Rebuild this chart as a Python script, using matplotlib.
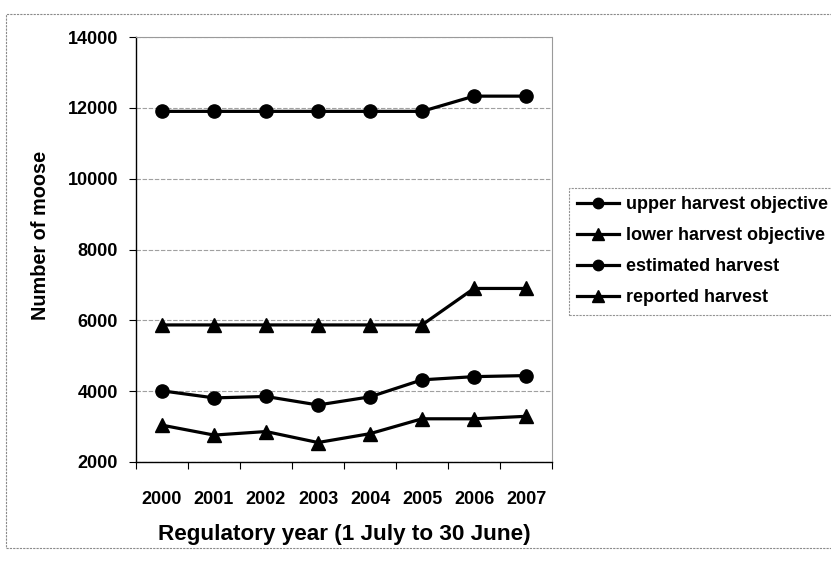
import matplotlib
matplotlib.use("Agg")
import matplotlib.pyplot as plt
from matplotlib.lines import Line2D
from matplotlib.patches import Rectangle

plt.rcParams['font.family'] = ['Liberation Sans', 'DejaVu Sans']
plt.rcParams['font.weight'] = 'bold'

years = ["2000", "2001", "2002", "2003", "2004", "2005", "2006", "2007"]
upper_objective = [11900, 11900, 11900, 11900, 11900, 11900, 12330, 12330]
lower_objective = [5870, 5870, 5870, 5870, 5870, 5870, 6900, 6900]
estimated_harvest = [4010, 3810, 3850, 3610, 3840, 4320, 4410, 4440]
reported_harvest = [3040, 2760, 2860, 2550, 2800, 3220, 3220, 3290]

series = [
    ("upper harvest objective", upper_objective, "o"),
    ("lower harvest objective", lower_objective, "^"),
    ("estimated harvest", estimated_harvest, "o"),
    ("reported harvest", reported_harvest, "^"),
]

W, H = 831, 562
fig = plt.figure(figsize=(W / 100, H / 100), dpi=100)

# outer chart frame
fig.add_artist(Rectangle((6 / W, 1 - 548 / H), (W - 5) / W, (548 - 14) / H,
                         transform=fig.transFigure, fill=False,
                         edgecolor="#8a8a8a", linewidth=0.8, linestyle=(0, (2, 1))))

ax = fig.add_axes([136 / W, 1 - 462 / H, (552 - 136) / W, (462 - 37) / H])

x = list(range(len(years)))
for name, vals, mk in series:
    ms = 9.5 if mk == "o" else 10.5
    ax.plot(x, vals, color="black", linewidth=2.3, marker=mk, markersize=ms,
            markerfacecolor="black", markeredgecolor="black", label=name,
            zorder=3)

ax.set_xlim(-0.5, len(years) - 0.5)
ax.set_ylim(2000, 14000)
ax.set_yticks(range(2000, 14001, 2000))
ax.set_yticklabels([str(v) for v in range(2000, 14001, 2000)], fontsize=13,
                   fontweight="bold")
ax.set_xticks(x)
ax.set_xticklabels(years, fontsize=13, fontweight="bold")
ax.set_xticks([i - 0.5 for i in range(len(years) + 1)], minor=True)
ax.tick_params(axis="x", which="major", length=0, pad=21)
ax.tick_params(axis="x", which="minor", length=5, width=0.8, direction="out")
ax.tick_params(axis="y", which="major", length=5, width=0.8, direction="out", pad=8)

ax.grid(axis="y", color="#a0a0a0", linewidth=0.8, linestyle=(0, (4, 1.5)), zorder=0)
ax.set_axisbelow(True)
for side in ("top", "right"):
    ax.spines[side].set_color("#9a9a9a")
    ax.spines[side].set_linewidth(0.8)
    ax.spines[side].set_linestyle((0, (2, 1)))
for side in ("left", "bottom"):
    ax.spines[side].set_color("black")
    ax.spines[side].set_linewidth(1.0)

ax.set_ylabel("Number of moose", fontsize=14.3, fontweight="bold")
ax.yaxis.set_label_coords(-0.207, 0.532)
ax.set_xlabel("Regulatory year (1 July to 30 June)", fontsize=16.2, fontweight="bold")
ax.xaxis.set_label_coords(0.5, -0.145)

handles = [Line2D([0], [0], color="black", linewidth=2.3, marker=mk,
                  markersize=7.5 if mk == "o" else 8.5) for _, _, mk in series]
leg = fig.legend(handles, [s[0] for s in series], loc="upper left",
                 bbox_to_anchor=(569 / W, 1 - 188 / H), frameon=True,
                 fancybox=False, edgecolor="#7a7a7a", fontsize=13,
                 handlelength=2.3, handletextpad=0.38, labelspacing=0.78,
                 borderpad=0.45, borderaxespad=0)
leg.get_frame().set_linewidth(0.8)
leg.get_frame().set_linestyle((0, (2, 1)))
for t in leg.get_texts():
    t.set_fontweight("bold")

fig.savefig("out.png", dpi=100)
